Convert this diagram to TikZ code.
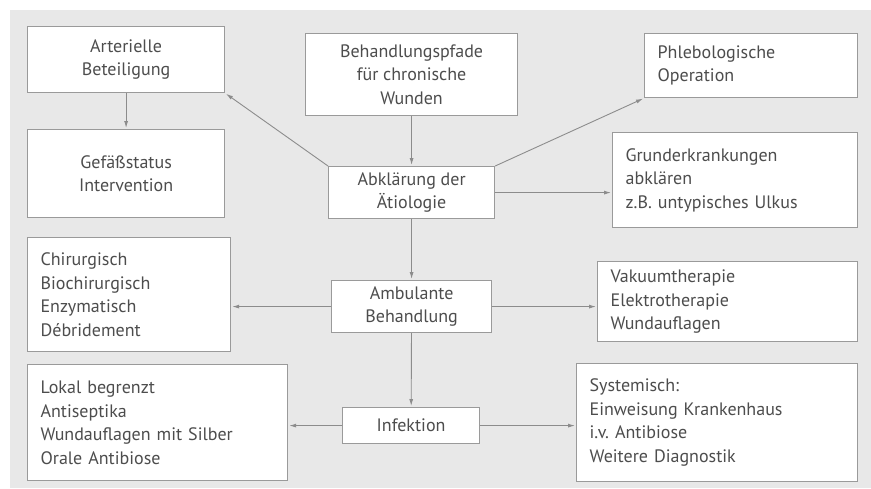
\documentclass[tikz,border=0pt]{standalone}
\usepackage{fontspec}
\setmainfont{PT Sans}
\usetikzlibrary{arrows.meta}
\definecolor{bggray}{HTML}{E8E8E8}
\definecolor{boxgray}{HTML}{9A9A9A}
\definecolor{txtgray}{HTML}{4D4D4D}
\definecolor{arrgray}{HTML}{8C8C8C}
\frenchspacing
\begin{document}
\begin{tikzpicture}[x=1pt,y=-1pt]
\tikzset{
base/.style={draw=boxgray,fill=white,line width=1.2pt,text=txtgray,font=\fontsize{18}{23.5}\selectfont,inner xsep=13pt,inner ysep=0pt,anchor=north west},
mid/.style={base,align=center},
side/.style={base,align=left},
conn/.style={draw=arrgray,line width=0.9pt,->,>={Latex[length=7pt,width=4pt]},shorten >=1pt}}
\useasboundingbox (0,0) rectangle (871,488);
\fill[bggray] (10,10) rectangle (871,488);
\node[mid,minimum width=197,minimum height=66] at (27,26) (AB) {Arterielle\\Beteiligung};
\node[mid,minimum width=197,minimum height=88] at (27,129) (GS) {Gefäßstatus\\Intervention};
\node[mid,minimum width=212,minimum height=82] at (305,33) (BP) {Behandlungspfade\\für chronische\\Wunden};
\node[mid,minimum width=166,minimum height=52] at (328,166) (AE) {Abklärung der\\Ätiologie};
\node[side,text width=187,minimum height=64] at (644,33) (PO) {Phlebologische\\Operation};
\node[side,text width=219,minimum height=95] at (612,132) (GE) {Grunderkrankungen\\abklären\\z.B. untypisches Ulkus};
\node[side,text width=177,minimum height=114] at (27,237) (DB) {Chirurgisch\\Biochirurgisch\\Enzymatisch\\Débridement};
\node[mid,minimum width=160,minimum height=52] at (331,280) (AM) {Ambulante\\Behandlung};
\node[side,text width=234,minimum height=80] at (597,261) (VT) {Vakuumtherapie\\Elektrotherapie\\Wundauflagen};
\node[side,text width=234,minimum height=116] at (27,364) (LB) {Lokal begrenzt\\Antiseptika\\Wundauflagen mit Silber\\Orale Antibiose};
\node[mid,minimum width=137,minimum height=36] at (342,407) (IN) {Infektion};
\node[side,text width=255,minimum height=118] at (576,363) (SY) {Systemisch:\\Einweisung Krankenhaus\\i.v. Antibiose\\Weitere Diagnostik};
\path[conn] (AB) -- (GS);
\path[conn] (BP) -- (AE);
\path[conn] (AE.north west) -- (AB.south east);
\path[conn] (AE.north east) -- (PO.south west);
\path[conn] (AE.east) -- (AE.east -| GE.west);
\path[conn] (AE) -- (AM);
\path[conn] (AM.west) -- (AM.west -| DB.east);
\path[conn] (AM.east) -- (AM.east -| VT.west);
\path[conn] (AM) -- (IN);
\path[conn] (IN.west) -- (IN.west -| LB.east);
\path[conn] (IN.east) -- (IN.east -| SY.west);
\end{tikzpicture}
\end{document}
